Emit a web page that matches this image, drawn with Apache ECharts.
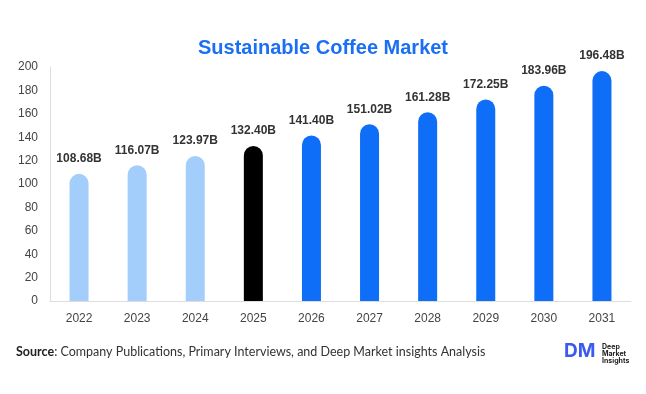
<!DOCTYPE html>
<html>
<head>
<meta charset="utf-8" />
<script src="https://cdn.jsdelivr.net/npm/echarts@6/dist/echarts.min.js"></script>
<style>
  html, body { margin: 0; padding: 0; background: #fff; }
  #main { width: 646px; height: 394px; }
</style>
</head>
<body>
<div id="main"></div>
<script type="text/javascript">
    var years = ['2022', '2023', '2024', '2025', '2026', '2027', '2028', '2029', '2030', '2031'];
    var values = [108.68, 116.07, 123.97, 132.40, 141.40, 151.02, 161.28, 172.25, 183.96, 196.48];
    var barColors = ['#a3cdfb', '#a3cdfb', '#a3cdfb', '#000000', '#0f6ef7', '#0f6ef7', '#0f6ef7', '#0f6ef7', '#0f6ef7', '#0f6ef7'];
    var yTicks = [0, 20, 40, 60, 80, 100, 120, 140, 160, 180, 200];

    var chart = echarts.init(document.getElementById('main'));

    var option = {
        backgroundColor: '#ffffff',
        title: {
            text: 'Sustainable Coffee Market',
            left: 'center',
            top: 33,
            textStyle: {
                color: '#1a6ff5',
                fontSize: 20,
                fontWeight: 'bold',
                fontFamily: 'Liberation Sans, Arial, sans-serif'
            }
        },
        grid: {
            left: 50,
            right: 15,
            top: 67,
            bottom: 93
        },
        xAxis: {
            type: 'category',
            data: years,
            axisLine: { lineStyle: { color: '#dddddd' } },
            axisTick: { show: false },
            axisLabel: {
                color: '#444444',
                fontSize: 12,
                margin: 12,
                fontFamily: 'Liberation Sans, Arial, sans-serif'
            }
        },
        yAxis: {
            type: 'value',
            min: yTicks[0],
            max: yTicks[yTicks.length - 1],
            interval: 20,
            axisLine: { show: true, lineStyle: { color: '#dddddd' } },
            axisTick: { show: false },
            splitLine: { show: false },
            axisLabel: {
                color: '#444444',
                fontSize: 12,
                margin: 12,
                fontFamily: 'Liberation Sans, Arial, sans-serif'
            }
        },
        series: [
            {
                type: 'bar',
                barWidth: 19,
                data: values.map(function (v, i) {
                    return { value: v, itemStyle: { color: barColors[i] } };
                }),
                itemStyle: { borderRadius: [10, 10, 0, 0] },
                label: {
                    show: true,
                    position: 'top',
                    distance: 9,
                    color: '#333333',
                    fontSize: 12,
                    fontWeight: 'bold',
                    fontFamily: 'Liberation Sans, Arial, sans-serif',
                    formatter: function (p) { return p.value.toFixed(2) + 'B'; }
                }
            }
        ],
        graphic: [
            {
                type: 'text',
                left: 16,
                top: 345,
                style: {
                    rich: {
                        b: { fontWeight: 'bold', fontSize: 12.5, fill: '#222', fontFamily: 'Lato, Noto Sans, sans-serif' },
                        n: { fontSize: 12.5, fill: '#333', fontFamily: 'Lato, Noto Sans, sans-serif' }
                    },
                    text: '{b|Source}{n|: Company Publications, Primary Interviews, and Deep Market insights Analysis}'
                }
            },
            {
                type: 'text',
                left: 564,
                top: 342,
                style: {
                    text: 'DM',
                    fill: '#3b5bf0',
                    fontSize: 19,
                    fontWeight: 'bold',
                    fontFamily: 'Inter, sans-serif'
                }
            },
            {
                type: 'text',
                left: 602,
                top: 343,
                style: {
                    text: 'Deep\nMarket\nInsights',
                    fill: '#222',
                    fontSize: 7,
                    lineHeight: 7,
                    fontWeight: 'bold',
                    fontFamily: 'Inter, sans-serif'
                }
            }
        ]
    };

    chart.setOption(option);
</script>
</body>
</html>
